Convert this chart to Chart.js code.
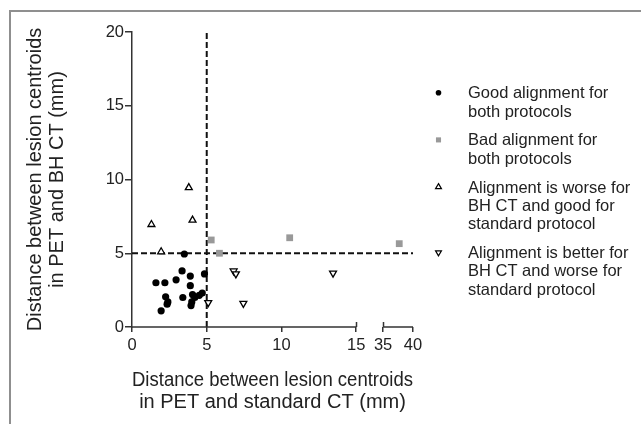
<!DOCTYPE html>
<html>
<head>
<meta charset="utf-8">
<script src="https://cdn.jsdelivr.net/npm/chart.js@4/dist/chart.umd.min.js"></script>
<style>
  html, body { margin: 0; padding: 0; background: #fff; }
</style>
</head>
<body>
<canvas id="chart" width="641" height="424"></canvas>
<script>
// distances (mm): x = standard CT, y = BH CT
const goodX = [3.5, 3.35, 2.95, 3.9, 4.85, 1.6, 2.2, 3.9, 2.25, 2.4, 2.35, 1.95, 3.4, 4.05, 4.5, 4.7, 4.2, 4.0, 3.95];
const goodY = [4.95, 3.8, 3.2, 3.45, 3.6, 3.0, 3.0, 2.8, 2.05, 1.7, 1.55, 1.1, 2.0, 2.2, 2.15, 2.3, 2.0, 1.7, 1.45];
const badX = [5.3, 5.85, 10.55, 37.7];
const badY = [5.9, 5.0, 6.05, 5.65];
const worseX = [3.8, 1.3, 4.05, 1.95];
const worseY = [9.45, 6.95, 7.25, 5.1];
const betterX = [5.1, 6.8, 6.95, 7.45, 13.45];
const betterY = [1.65, 3.8, 3.6, 1.6, 3.65];

const cutoff = 5;
const xTicks = [0, 5, 10, 15, 35, 40];
const yTicks = [0, 5, 10, 15, 20];
const legendLabels = [
  ['Good alignment for', 'both protocols'],
  ['Bad alignment for', 'both protocols'],
  ['Alignment is worse for', 'BH CT and good for', 'standard protocol'],
  ['Alignment is better for', 'BH CT and worse for', 'standard protocol'],
];

const FONT = "'Liberation Sans', Arial, sans-serif";
const INK = '#222';

const toPoints = (xs, ys) => xs.map((x, i) => ({ x: x, y: ys[i] }));

// x axis is broken between 15 and 35; the 35-40 piece is squeezed
const BREAK_LO = 15, BREAK_HI = 35, BREAK_GAP = 1.8, TAIL_SCALE = 0.4;
const SPAN = BREAK_LO + BREAK_GAP + (40 - BREAK_HI) * TAIL_SCALE;

function brokenPos(v) {
  if (v <= BREAK_LO) return v;
  if (v >= BREAK_HI) return BREAK_LO + BREAK_GAP + (v - BREAK_HI) * TAIL_SCALE;
  return BREAK_LO + BREAK_GAP / 2;
}

class BrokenLinearScale extends Chart.LinearScale {
  getPixelForValue(value) {
    return this.getPixelForDecimal(brokenPos(value) / SPAN);
  }
  getValueForPixel(pixel) {
    const t = this.getDecimalForPixel(pixel) * SPAN;
    if (t <= BREAK_LO) return t;
    if (t >= BREAK_LO + BREAK_GAP) return BREAK_HI + (t - BREAK_LO - BREAK_GAP) / TAIL_SCALE;
    return BREAK_LO;
  }
}
BrokenLinearScale.id = 'brokenLinear';
BrokenLinearScale.defaults = Chart.LinearScale.defaults;
Chart.register(BrokenLinearScale);

const frame = {
  id: 'frame',
  beforeDraw(chart) {
    const ctx = chart.ctx;
    ctx.save();
    ctx.fillStyle = '#fff';
    ctx.fillRect(0, 0, chart.width, chart.height);
    ctx.strokeStyle = '#8f8f8f';
    ctx.lineWidth = 2;
    ctx.beginPath();
    ctx.moveTo(10, chart.height);
    ctx.lineTo(10, 11);
    ctx.lineTo(chart.width, 11);
    ctx.stroke();
    ctx.restore();
  },
};

const brokenAxis = {
  id: 'brokenAxis',
  afterDatasetsDraw(chart) {
    const ctx = chart.ctx;
    const xs = chart.scales.x;
    const y0 = chart.chartArea.bottom;
    ctx.save();
    ctx.strokeStyle = '#333';
    ctx.lineWidth = 1.5;
    ctx.beginPath();
    ctx.moveTo(xs.getPixelForValue(0), y0);
    ctx.lineTo(xs.getPixelForValue(BREAK_LO), y0);
    ctx.moveTo(xs.getPixelForValue(BREAK_HI), y0);
    ctx.lineTo(xs.getPixelForValue(40), y0);
    // end caps either side of the break
    [BREAK_LO, BREAK_HI].forEach(v => {
      const px = Math.round(xs.getPixelForValue(v)) + 0.5;
      ctx.moveTo(px, y0 - 5);
      ctx.lineTo(px, y0);
    });
    ctx.stroke();
    ctx.restore();
  },
};

const sideLegend = {
  id: 'sideLegend',
  afterDraw(chart) {
    const ctx = chart.ctx;
    const markers = chart.data.datasets.filter(d => d.inLegend);
    ctx.save();
    ctx.font = '16.5px ' + FONT;
    ctx.fillStyle = INK;
    ctx.textBaseline = 'alphabetic';
    let base = 98.3;
    legendLabels.forEach((lines, i) => {
      const ds = markers[i];
      ctx.save();
      ctx.fillStyle = ds.backgroundColor;
      ctx.strokeStyle = ds.borderColor;
      ctx.lineWidth = 1.2;
      Chart.helpers.drawPoint(ctx, {
        pointStyle: ds.pointStyle,
        radius: ds.legendRadius,
        rotation: ds.pointRotation || 0,
        borderWidth: ds.borderWidth ? 1.2 : 0,
      }, 438.5, base - 5.5);
      ctx.restore();
      lines.forEach((t, j) => ctx.fillText(t, 468, base + j * 18.4));
      base += (lines.length - 1) * 18.4 + 28.7;
    });
    ctx.restore();
  },
};

new Chart(document.getElementById('chart'), {
  type: 'scatter',
  data: {
    datasets: [
      {
        label: 'Good alignment for both protocols',
        data: toPoints(goodX, goodY),
        pointStyle: 'circle',
        pointRadius: 3.6,
        backgroundColor: '#000',
        borderColor: '#000',
        borderWidth: 0,
        inLegend: true,
        legendRadius: 2.8,
        order: 1,
      },
      {
        label: 'Bad alignment for both protocols',
        data: toPoints(badX, badY),
        pointStyle: 'rect',
        pointRadius: 4.8,
        backgroundColor: '#999',
        borderColor: '#999',
        borderWidth: 0,
        inLegend: true,
        legendRadius: 3.6,
        order: 1,
      },
      {
        label: 'Alignment is worse for BH CT and good for standard protocol',
        data: toPoints(worseX, worseY),
        pointStyle: 'triangle',
        pointRadius: 4,
        backgroundColor: '#fff',
        borderColor: '#000',
        borderWidth: 1.3,
        inLegend: true,
        legendRadius: 3.4,
        order: 1,
      },
      {
        label: 'Alignment is better for BH CT and worse for standard protocol',
        data: toPoints(betterX, betterY),
        pointStyle: 'triangle',
        pointRotation: 180,
        pointRadius: 4,
        backgroundColor: '#fff',
        borderColor: '#000',
        borderWidth: 1.3,
        inLegend: true,
        legendRadius: 3.4,
        order: 1,
      },
      {
        label: 'cutoff y',
        data: [{ x: 0, y: cutoff }, { x: 40, y: cutoff }],
        showLine: true,
        pointRadius: 0,
        borderColor: '#111',
        borderWidth: 2,
        borderDash: [6, 3],
        order: 5,
      },
      {
        label: 'cutoff x',
        data: [{ x: cutoff, y: 0 }, { x: cutoff, y: 20 }],
        showLine: true,
        pointRadius: 0,
        borderColor: '#111',
        borderWidth: 2,
        borderDash: [6, 3],
        order: 5,
      },
    ],
  },
  options: {
    responsive: false,
    animation: false,
    layout: { padding: { top: 32, right: 228, left: 0, bottom: 0 } },
    plugins: {
      legend: { display: false },
      tooltip: { enabled: false },
    },
    scales: {
      x: {
        type: 'brokenLinear',
        min: 0,
        max: 40,
        afterBuildTicks: axis => { axis.ticks = xTicks.map(v => ({ value: v })); },
        afterFit: axis => { axis.height = 97; },
        border: { display: false },
        grid: { drawOnChartArea: false, tickLength: 5, color: '#333', lineWidth: 1.5 },
        ticks: {
          padding: 3.5,
          color: INK,
          maxRotation: 0,
          autoSkip: false,
          font: { family: FONT, size: 16.5 },
          callback: v => String(v),
        },
        title: {
          display: true,
          text: ['Distance between lesion centroids', 'in PET and standard CT (mm)'],
          color: INK,
          font: { family: FONT, size: 20, lineHeight: 1.07 },
          padding: { top: 0, bottom: 11 },
        },
      },
      y: {
        type: 'linear',
        min: 0,
        max: 20,
        afterBuildTicks: axis => { axis.ticks = yTicks.map(v => ({ value: v })); },
        afterFit: axis => { axis.width = 132; },
        border: { display: true, color: '#333', width: 1.5 },
        grid: { drawOnChartArea: false, tickLength: 7, color: '#333', lineWidth: 1.5 },
        ticks: {
          padding: 1,
          color: INK,
          font: { family: FONT, size: 16.5 },
          callback: v => String(v),
        },
        title: {
          display: true,
          text: ['Distance between lesion centroids', 'in PET and BH CT (mm)'],
          color: INK,
          font: { family: FONT, size: 20, lineHeight: 1.1 },
          padding: { top: 24, bottom: 0 },
        },
      },
    },
  },
  plugins: [frame, brokenAxis, sideLegend],
});
</script>
</body>
</html>
